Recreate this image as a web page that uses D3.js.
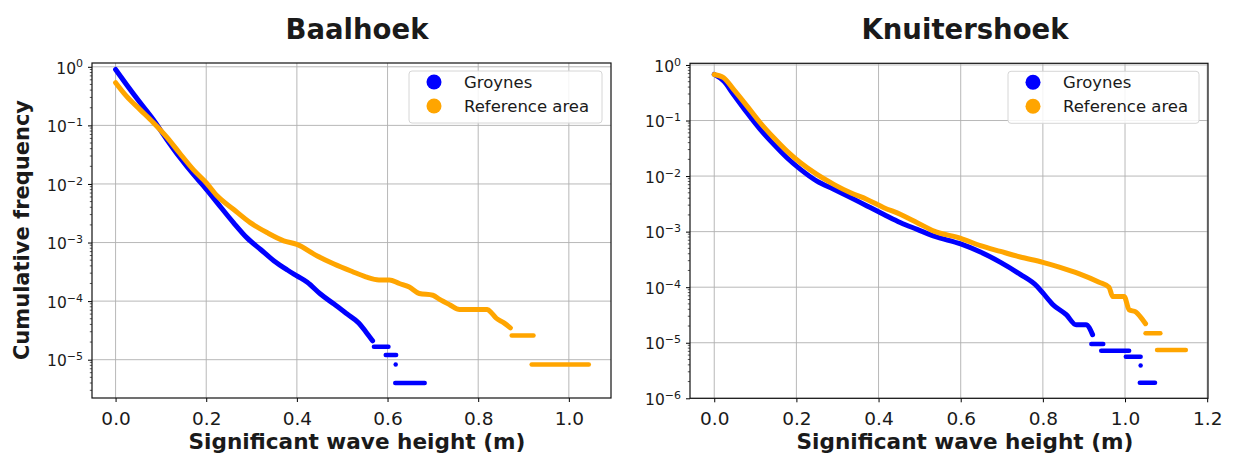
<!DOCTYPE html>
<html>
<meta charset="utf-8">
<head>
  <script src="https://d3js.org/d3.v7.min.js"></script>
  <style>
    body { margin: 0; background: #fff; }
    text { font-family: "DejaVu Sans", sans-serif; fill: #1a1a1a; }
    .grid line { stroke: #b0b0b0; stroke-width: 0.9; }
    .frame { fill: none; stroke: #111; stroke-width: 1.2; }
  </style>
</head>
<body>
<svg id="chart" width="1233" height="455"></svg>
<script>

// ---- Baalhoek ----
var xTicksB = [0.0, 0.2, 0.4, 0.6, 0.8, 1.0];
var yTicksB = [1, 1e-1, 1e-2, 1e-3, 1e-4, 1e-5];

var groynesBx = [0, .024, .054, .083, .113, .142, .172, .194, .224, .26, .29, .32, .349, .379, .40, .423, .452, .482, .511, .537, .552, .567];
var groynesBy = [0.90, 0.50, 0.245, 0.126, 0.0575, 0.0282, 0.0145, 0.0093, 0.0048, 0.00219, 0.0012, 7.6e-4, 4.9e-4, 3.4e-4, 2.7e-4, 2.1e-4, 1.32e-4, 8.9e-5, 6.0e-5, 4.2e-5, 3.0e-5, 2.1e-5];
// tail plateaus: [x start, x end, frequency]
var groynesBsteps = [[0.570, 0.602, 1.66e-5], [0.596, 0.619, 1.2e-5], [0.618, 0.618, 8.3e-6], [0.617, 0.682, 4.0e-6]];

var refBx = [0, .024, .054, .083, .113, .142, .172, .2, .224, .26, .297, .334, .371, .40, .445, .482, .522, .552, .581, .604, .626, .648, .67, .70, .715, .737, .759, .82, .83, .84, .856, .871];
var refBy = [0.537, 0.316, 0.186, 0.112, 0.063, 0.0331, 0.0174, 0.0105, 0.0063, 0.0037, 0.00219, 0.00148, 0.00107, 9.3e-4, 5.9e-4, 4.3e-4, 3.2e-4, 2.6e-4, 2.3e-4, 2.3e-4, 2.0e-4, 1.74e-4, 1.35e-4, 1.26e-4, 1.07e-4, 8.7e-5, 7.2e-5, 7.2e-5, 6.2e-5, 5.1e-5, 4.3e-5, 3.5e-5];
var refBsteps = [[0.874, 0.922, 2.6e-5], [0.918, 1.044, 8.3e-6]];

// ---- Knuitershoek ----
var xTicksK = [0.0, 0.2, 0.4, 0.6, 0.8, 1.0, 1.2];
var yTicksK = [1, 1e-1, 1e-2, 1e-3, 1e-4, 1e-5, 1e-6];

var groynesKx = [0, .023, .047, .08, .112, .145, .177, .21, .25, .291, .332, .372, .413, .454, .494, .535, .60, .648, .697, .745, .785, .80, .824, .857, .881, .905, .921];
var groynesKy = [0.676, 0.513, 0.295, 0.138, 0.0692, 0.0372, 0.0214, 0.0132, 0.0081, 0.0058, 0.0041, 0.0029, 0.00204, 0.00145, 0.0011, 8.3e-4, 6.0e-4, 4.3e-4, 2.8e-4, 1.7e-4, 1.05e-4, 7.9e-5, 4.9e-5, 3.2e-5, 2.1e-5, 2.1e-5, 1.4e-5];
var groynesKsteps = [[0.918, 0.947, 9.5e-6], [0.942, 1.01, 7.2e-6], [1.002, 1.038, 5.6e-6], [1.038, 1.038, 3.9e-6], [1.036, 1.073, 1.9e-6]];

var refKx = [0, .023, .047, .08, .112, .145, .177, .21, .25, .291, .332, .372, .413, .454, .494, .535, .60, .648, .697, .745, .80, .84, .889, .937, .961, .97, .998, 1.01, 1.026, 1.038, 1.05];
var refKy = [0.676, 0.589, 0.363, 0.182, 0.0912, 0.049, 0.0282, 0.0174, 0.0107, 0.0071, 0.0050, 0.0038, 0.0027, 0.00204, 0.00145, 0.00102, 7.6e-4, 5.6e-4, 4.4e-4, 3.5e-4, 2.8e-4, 2.3e-4, 1.74e-4, 1.23e-4, 1.0e-4, 6.8e-5, 6.8e-5, 3.9e-5, 3.6e-5, 2.9e-5, 2.2e-5];
var refKsteps = [[1.05, 1.086, 1.48e-5], [1.078, 1.148, 7.4e-6]];

var seriesNames = ["Groynes", "Reference area"];
var seriesColors = ["#0000ff", "#ffa500"];

var svg = d3.select("#chart");

function drawPanel(p) {
  var x = d3.scaleLinear().domain(p.xDomain).range([p.left, p.right]);
  var y = d3.scaleLog().domain(p.yDomain).range([p.bottom, p.top]);
  var g = svg.append("g");

  // grid
  var grid = g.append("g").attr("class", "grid");
  grid.selectAll(".gx").data(p.xTicks).enter().append("line")
    .attr("x1", d => x(d)).attr("x2", d => x(d)).attr("y1", p.top).attr("y2", p.bottom);
  grid.selectAll(".gy").data(p.yTicks).enter().append("line")
    .attr("x1", p.left).attr("x2", p.right).attr("y1", d => y(d)).attr("y2", d => y(d));

  // x axis
  var xa = g.append("g").attr("transform", "translate(0," + p.bottom + ")")
    .call(d3.axisBottom(x).tickValues(p.xTicks).tickSize(4).tickPadding(10).tickFormat(d3.format(".1f")));
  xa.select(".domain").remove();
  xa.selectAll("text").attr("font-size", 18.5).attr("fill", "#1a1a1a").attr("font-family", "DejaVu Sans");

  // y axis, major ticks with 10^n labels
  var ya = g.append("g").attr("transform", "translate(" + p.left + ",0)")
    .call(d3.axisLeft(y).tickValues(p.yTicks).tickSize(4).tickPadding(5).tickFormat(""));
  ya.select(".domain").remove();
  ya.selectAll(".tick text").each(function(d) {
    var t = d3.select(this).attr("font-size", 15.5).attr("font-family", "DejaVu Sans").attr("dy", "0.4em");
    var e = Math.round(Math.log10(d));
    t.append("tspan").text("10");
    t.append("tspan").attr("dy", "-0.55em").attr("font-size", 11).text(e < 0 ? "\u2212" + (-e) : e);
  });

  // minor ticks
  var minors = [];
  for (var k = -7; k <= 1; k++) {
    for (var m = 2; m <= 9; m++) {
      var v = m * Math.pow(10, k);
      if (v > p.yDomain[0] && v < p.yDomain[1]) minors.push(v);
    }
  }
  g.selectAll(".minor").data(minors).enter().append("line")
    .attr("x1", p.left - 2.2).attr("x2", p.left).attr("y1", d => y(d)).attr("y2", d => y(d))
    .attr("stroke", "#111").attr("stroke-width", 0.7);

  // data
  var line = d3.line().x(d => x(d[0])).y(d => y(d[1])).curve(d3.curveMonotoneX);
  p.series.forEach(function(s, i) {
    var pts = s.xs.map((v, j) => [v, s.ys[j]]);
    g.append("path").attr("d", line(pts))
      .attr("fill", "none").attr("stroke", seriesColors[i]).attr("stroke-width", 5)
      .attr("stroke-linecap", "round").attr("stroke-linejoin", "round");
    s.steps.forEach(function(st) {
      g.append("line")
        .attr("x1", x(st[0])).attr("x2", x(st[1])).attr("y1", y(st[2])).attr("y2", y(st[2]))
        .attr("stroke", seriesColors[i]).attr("stroke-width", 4.5).attr("stroke-linecap", "round");
    });
  });

  // frame
  g.append("rect").attr("class", "frame")
    .attr("x", p.left).attr("y", p.top).attr("width", p.right - p.left).attr("height", p.bottom - p.top);

  // legend
  var lg = g.append("g");
  lg.append("rect").attr("x", p.legX).attr("y", p.top + 8).attr("width", p.legW).attr("height", 52)
    .attr("rx", 3).attr("fill", "#fff").attr("fill-opacity", 0.85).attr("stroke", "#d6d6d6");
  seriesNames.forEach(function(n, i) {
    lg.append("circle").attr("cx", p.legX + 25).attr("cy", p.top + 19 + i * 24).attr("r", 7.5).attr("fill", seriesColors[i]);
    lg.append("text").attr("x", p.legX + 55).attr("y", p.top + 25 + i * 24).attr("font-size", 16.5).text(n);
  });

  // title and x label
  svg.append("text").attr("x", p.titleX).attr("y", 39).attr("text-anchor", "middle")
    .attr("font-size", 27.5).attr("font-weight", "bold").text(p.title);
  svg.append("text").attr("x", p.xLabelX).attr("y", 449).attr("text-anchor", "middle")
    .attr("font-size", 21.6).attr("font-weight", "bold").text("Significant wave height (m)");
}

drawPanel({
  title: "Baalhoek", titleX: 357, xLabelX: 357,
  left: 92, right: 611, top: 63, bottom: 398,
  xDomain: [-0.052, 1.093], yDomain: [Math.pow(10, -5.654), Math.pow(10, 0.065)],
  xTicks: xTicksB, yTicks: yTicksB, legX: 409, legW: 193,
  series: [
    {xs: groynesBx, ys: groynesBy, steps: groynesBsteps},
    {xs: refBx, ys: refBy, steps: refBsteps}
  ]
});

drawPanel({
  title: "Knuitershoek", titleX: 965, xLabelX: 965,
  left: 690, right: 1208, top: 63.3, bottom: 398.3,
  xDomain: [-0.059, 1.202], yDomain: [1e-6, Math.pow(10, 0.03)],
  xTicks: xTicksK, yTicks: yTicksK, legX: 1008, legW: 191,
  series: [
    {xs: groynesKx, ys: groynesKy, steps: groynesKsteps},
    {xs: refKx, ys: refKy, steps: refKsteps}
  ]
});

// shared y label
svg.append("text").attr("transform", "translate(29,230) rotate(-90)").attr("text-anchor", "middle")
  .attr("font-size", 21).attr("font-weight", "bold").text("Cumulative frequency");

</script>
</body>
</html>
